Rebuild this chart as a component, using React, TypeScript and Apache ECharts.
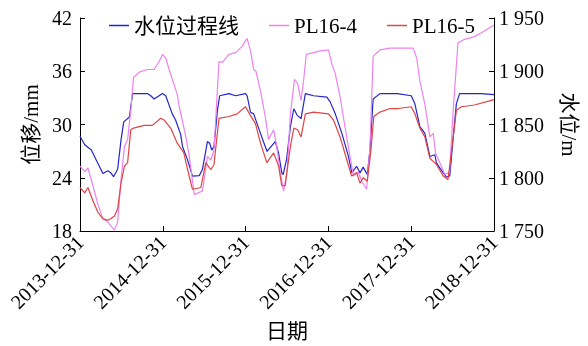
import React, { useEffect, useRef } from "react";
import * as echarts from "echarts";

const xTickLabels = ["2013-12-31", "2014-12-31", "2015-12-31", "2016-12-31", "2017-12-31", "2018-12-31"];
const seriesNames = ["水位过程线", "PL16-4", "PL16-5"];

// water level (m), right axis
const waterLevel: [string, number][] = [
  ["2013-12-31", 1839], ["2014-01-21", 1831], ["2014-02-19", 1826], ["2014-03-12", 1817],
  ["2014-04-11", 1804], ["2014-05-03", 1806.5], ["2014-05-14", 1805], ["2014-05-28", 1801],
  ["2014-06-15", 1808], ["2014-06-30", 1835.5], ["2014-07-12", 1852.5], ["2014-08-06", 1857],
  ["2014-08-20", 1879], ["2014-10-25", 1879], ["2014-11-08", 1877], ["2014-11-23", 1874],
  ["2014-12-30", 1879], ["2015-01-13", 1877], ["2015-02-11", 1860], ["2015-02-26", 1854],
  ["2015-03-20", 1840.7], ["2015-03-28", 1829.4], ["2015-04-19", 1817], ["2015-05-11", 1801.6],
  ["2015-06-10", 1802], ["2015-06-24", 1807.7], ["2015-07-16", 1834], ["2015-07-26", 1832.4],
  ["2015-08-04", 1826], ["2015-08-14", 1829.4], ["2015-08-29", 1863], ["2015-09-08", 1877],
  ["2015-10-19", 1879], ["2015-11-17", 1877], ["2015-12-31", 1879], ["2016-01-07", 1877],
  ["2016-01-22", 1861.5], ["2016-02-05", 1860], ["2016-03-06", 1841.7], ["2016-04-04", 1824.7],
  ["2016-05-10", 1834], ["2016-05-25", 1823], ["2016-06-08", 1804.6], ["2016-06-14", 1803],
  ["2016-06-29", 1817], ["2016-07-16", 1848], ["2016-07-31", 1864.8], ["2016-08-15", 1858.6],
  ["2016-09-01", 1855.6], ["2016-09-20", 1879], ["2016-10-26", 1877], ["2016-12-24", 1875.7],
  ["2017-01-08", 1871], ["2017-01-30", 1860], ["2017-02-28", 1841.7], ["2017-03-29", 1820],
  ["2017-04-13", 1804.6], ["2017-05-04", 1810.8], ["2017-05-19", 1804.6], ["2017-06-02", 1810],
  ["2017-06-20", 1803], ["2017-07-02", 1826], ["2017-07-16", 1874], ["2017-08-15", 1879],
  ["2017-10-31", 1879], ["2017-12-31", 1877], ["2018-01-16", 1869.4], ["2018-02-07", 1848],
  ["2018-03-01", 1841.7], ["2018-03-23", 1820], ["2018-04-14", 1821.6], ["2018-04-21", 1814],
  ["2018-05-21", 1804.6], ["2018-06-04", 1800.7], ["2018-06-19", 1801.6], ["2018-07-03", 1835.5],
  ["2018-07-18", 1869.4], ["2018-08-01", 1879], ["2018-11-05", 1879], ["2018-12-31", 1878],
];

// PL16-4 displacement (mm), left axis
const pl164: [string, number][] = [
  ["2013-12-31", 25.3], ["2014-01-21", 24.7], ["2014-02-04", 25.1], ["2014-02-26", 23.1],
  ["2014-03-20", 21.0], ["2014-04-11", 19.4], ["2014-05-03", 19.0], ["2014-06-01", 18.1],
  ["2014-06-15", 19.0], ["2014-06-30", 23.8], ["2014-07-15", 27.5], ["2014-07-29", 28.3],
  ["2014-08-12", 31.6], ["2014-08-24", 35.3], ["2014-09-18", 35.9], ["2014-10-25", 36.2],
  ["2014-11-23", 36.2], ["2014-12-15", 37.1], ["2014-12-30", 37.9], ["2015-01-13", 37.5],
  ["2015-01-28", 36.2], ["2015-03-05", 33.4], ["2015-03-14", 32.0], ["2015-04-12", 28.6],
  ["2015-04-27", 26.4], ["2015-05-19", 22.1], ["2015-06-24", 22.5], ["2015-07-16", 26.4],
  ["2015-07-31", 26.0], ["2015-08-14", 27.1], ["2015-09-05", 37.1], ["2015-09-20", 37.0],
  ["2015-10-19", 37.9], ["2015-11-17", 38.1], ["2015-12-16", 38.8], ["2016-01-07", 39.7],
  ["2016-01-22", 38.3], ["2016-02-05", 36.2], ["2016-02-15", 36.0], ["2016-03-06", 33.8],
  ["2016-03-27", 30.9], ["2016-04-11", 28.3], ["2016-05-03", 29.4], ["2016-05-17", 27.5],
  ["2016-06-01", 24.6], ["2016-06-16", 22.5], ["2016-07-02", 24.9], ["2016-07-16", 31.2],
  ["2016-08-03", 35.1], ["2016-08-17", 34.6], ["2016-09-01", 32.7], ["2016-09-12", 34.9],
  ["2016-09-24", 37.9], ["2016-10-26", 38.1], ["2016-11-25", 38.3], ["2016-12-31", 38.4],
  ["2017-01-15", 36.8], ["2017-01-30", 35.7], ["2017-02-20", 33.1], ["2017-03-14", 29.7],
  ["2017-04-05", 26.4], ["2017-04-20", 24.2], ["2017-05-12", 24.6], ["2017-05-27", 23.6],
  ["2017-06-17", 22.7], ["2017-07-02", 27.5], ["2017-07-16", 37.7], ["2017-08-15", 38.4],
  ["2017-09-28", 38.6], ["2017-11-05", 38.6], ["2018-01-09", 38.6], ["2018-01-24", 37.5],
  ["2018-02-07", 34.9], ["2018-03-01", 32.3], ["2018-03-23", 28.6], ["2018-04-07", 29.0],
  ["2018-04-17", 26.8], ["2018-05-06", 25.7], ["2018-05-28", 24.4], ["2018-06-18", 24.6],
  ["2018-07-03", 31.2], ["2018-07-25", 39.2], ["2018-08-23", 39.6], ["2018-10-06", 39.9],
  ["2018-11-04", 40.3], ["2018-12-31", 41.2],
];

// PL16-5 displacement (mm), left axis
const pl165: [string, number][] = [
  ["2013-12-31", 22.9], ["2014-01-21", 22.3], ["2014-02-04", 22.9], ["2014-02-26", 21.4],
  ["2014-03-20", 20.1], ["2014-04-11", 19.4], ["2014-05-03", 19.2], ["2014-05-17", 19.4],
  ["2014-06-01", 19.7], ["2014-06-15", 20.5], ["2014-06-30", 23.4], ["2014-07-15", 25.3],
  ["2014-07-29", 25.7], ["2014-08-12", 29.4], ["2014-08-24", 29.6], ["2014-10-10", 29.9],
  ["2014-11-15", 29.9], ["2014-12-22", 30.7], ["2015-01-06", 30.5], ["2015-02-04", 29.6],
  ["2015-03-05", 27.9], ["2015-04-03", 26.8], ["2015-04-18", 25.1], ["2015-05-11", 22.7],
  ["2015-06-17", 22.9], ["2015-07-09", 25.7], ["2015-07-31", 24.9], ["2015-08-14", 25.5],
  ["2015-09-05", 30.7], ["2015-10-19", 30.9], ["2015-11-24", 31.2], ["2015-12-31", 32.0],
  ["2016-01-22", 31.0], ["2016-02-13", 30.1], ["2016-03-06", 27.9], ["2016-04-03", 25.7],
  ["2016-05-03", 26.8], ["2016-05-25", 25.3], ["2016-06-08", 23.1], ["2016-06-23", 23.1],
  ["2016-07-02", 24.9], ["2016-07-16", 27.5], ["2016-07-31", 29.6], ["2016-08-17", 29.4],
  ["2016-09-01", 28.6], ["2016-09-20", 31.2], ["2016-10-26", 31.4], ["2016-12-31", 31.2],
  ["2017-01-22", 30.5], ["2017-02-20", 28.6], ["2017-03-22", 26.0], ["2017-04-12", 24.2],
  ["2017-05-04", 24.6], ["2017-05-19", 23.4], ["2017-06-02", 24.0], ["2017-06-20", 23.6],
  ["2017-07-05", 26.8], ["2017-07-19", 30.9], ["2017-08-15", 31.4], ["2017-09-28", 31.8],
  ["2017-11-05", 31.8], ["2017-12-31", 32.0], ["2018-01-16", 31.2], ["2018-02-07", 29.6],
  ["2018-03-01", 28.6], ["2018-03-23", 26.2], ["2018-04-21", 25.5], ["2018-05-21", 24.2],
  ["2018-06-11", 23.8], ["2018-06-26", 26.8], ["2018-07-18", 31.6], ["2018-08-09", 32.0],
  ["2018-10-06", 32.2], ["2018-12-31", 32.8],
];

const leftAxis = { min: 18, max: 42, interval: 6, name: "位移/mm" };
const rightAxis = { min: 1750, max: 1950, interval: 50, name: "水位/m" };

const FONT = "'Liberation Serif', 'Times New Roman', 'Noto Sans CJK SC', serif";
const ts = (d: string) => Date.parse(d + "T00:00:00Z");

export default function App() {
  const ref = useRef<HTMLDivElement>(null);
  useEffect(() => {
    if (!ref.current) return;
    const chart = echarts.init(ref.current, null, { renderer: "svg" });
    const toPts = (arr: [string, number][]) => arr.map(([d, v]) => [ts(d), v]);
    const tickVals = xTickLabels.map(ts);
    chart.setOption({
      animation: false,
      textStyle: { fontFamily: FONT, color: "#000" },
      grid: { left: 80, right: 91, top: 18, bottom: 112 },
      legend: {
        data: seriesNames,
        left: 104,
        top: 10,
        icon: "rect",
        itemWidth: 20,
        itemHeight: 1.5,
        itemGap: 30,
        textStyle: { fontFamily: FONT, fontSize: 21, color: "#000" },
      },
      xAxis: {
        type: "value",
        min: tickVals[0],
        max: tickVals[tickVals.length - 1],
        name: "日期",
        nameLocation: "middle",
        nameGap: 89,
        nameTextStyle: { fontFamily: FONT, fontSize: 21, color: "#000" },
        axisLine: { show: true, lineStyle: { color: "#000", width: 1 } },
        axisTick: { show: true, inside: true, length: 5, customValues: tickVals, lineStyle: { color: "#000" } },
        axisLabel: {
          customValues: tickVals,
          rotate: 45,
          margin: 8,
          fontFamily: FONT,
          fontSize: 20,
          color: "#000",
          formatter: (v: number) => {
            const i = tickVals.indexOf(v);
            return i >= 0 ? xTickLabels[i] : new Date(v).toISOString().slice(0, 10);
          },
        },
        splitLine: { show: false },
      },
      yAxis: [
        {
          type: "value",
          min: leftAxis.min,
          max: leftAxis.max,
          interval: leftAxis.interval,
          name: leftAxis.name,
          nameLocation: "middle",
          nameGap: 37,
          nameRotate: 90,
          nameTextStyle: { fontFamily: FONT, fontSize: 21, color: "#000" },
          axisLine: { show: true, lineStyle: { color: "#000", width: 1 } },
          axisTick: { show: true, inside: true, length: 5, lineStyle: { color: "#000" } },
          axisLabel: { margin: 8, fontFamily: FONT, fontSize: 20, color: "#000" },
          splitLine: { show: false },
        },
        {
          type: "value",
          position: "right",
          min: rightAxis.min,
          max: rightAxis.max,
          interval: rightAxis.interval,
          name: rightAxis.name,
          nameLocation: "middle",
          nameGap: 65,
          nameRotate: -90,
          nameTextStyle: { fontFamily: FONT, fontSize: 21, color: "#000" },
          axisLine: { show: true, lineStyle: { color: "#000", width: 1 } },
          axisTick: { show: true, inside: true, length: 5, lineStyle: { color: "#000" } },
          axisLabel: {
            margin: 5,
            fontFamily: FONT,
            fontSize: 20,
            color: "#000",
            formatter: (v: number) => {
              const s = String(v);
              return s.slice(0, 1) + " " + s.slice(1);
            },
          },
          splitLine: { show: false },
        },
      ],
      series: [
        {
          name: seriesNames[0],
          type: "line",
          yAxisIndex: 1,
          data: toPts(waterLevel),
          showSymbol: false,
          symbol: "none",
          lineStyle: { color: "#2424cc", width: 1.2 },
          itemStyle: { color: "#2424cc" },
        },
        {
          name: seriesNames[1],
          type: "line",
          yAxisIndex: 0,
          data: toPts(pl164),
          showSymbol: false,
          symbol: "none",
          lineStyle: { color: "#ee82ee", width: 1.2 },
          itemStyle: { color: "#ee82ee" },
        },
        {
          name: seriesNames[2],
          type: "line",
          yAxisIndex: 0,
          data: toPts(pl165),
          showSymbol: false,
          symbol: "none",
          lineStyle: { color: "#e04444", width: 1.2 },
          itemStyle: { color: "#e04444" },
        },
      ],
    });
    return () => chart.dispose();
  }, []);
  return <div ref={ref} style={{ position: "fixed", left: 0, top: 0, width: 588, height: 346 }} />;
}
